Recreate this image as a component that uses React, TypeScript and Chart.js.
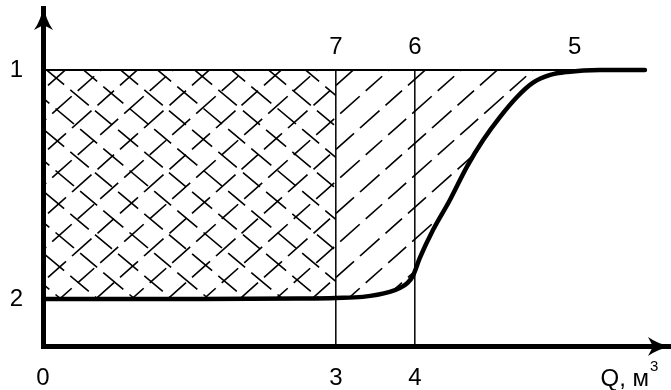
import React, { useEffect, useRef } from "react";
import { Chart, registerables } from "chart.js";

Chart.register(...registerables);

// ---- data (x: Q in relative units 0..100, y: level in relative units) ----
const curveQ = [0, 25.0, 41.0, 46.7, 51.0, 55.3, 56.9, 58.1, 59.0, 60.1, 62.2, 64.9, 67.6, 70.2, 72.9, 75.6, 78.1, 80.9, 83.6, 88.8, 96.0];
const curveLevel = [17.0, 17.0, 17.2, 17.4, 17.8, 19.6, 21.0, 22.8, 25.4, 31.9, 42.0, 52.9, 64.9, 74.6, 83.0, 90.2, 95.3, 98.2, 99.3, 100, 100];
const levelTop = 100;
const levelBottom = 17;
const q3 = 46.7;
const q4 = 59.3;
const q5 = 84.8;
const qTopEnd = 88.8;
const xTickValues = [0, q3, q4];
const xTickLabels = ["0", "3", "4"];
const yTickValues = [levelBottom, levelTop];
const yTickLabels = ["2", "1"];
const topLabelValues = [q3, q4, q5];
const topLabels = ["7", "6", "5"];
const axisTitleMain = "Q, м";
const axisTitleSup = "3";

const FONT = "'Liberation Sans', Arial, sans-serif";

function makeHatch(
  ctx: CanvasRenderingContext2D,
  W: number,
  H: number,
  mirror: boolean,
  base: number[],
  stagger: number
): CanvasPattern | string {
  const c = document.createElement("canvas");
  c.width = 2 * W;
  c.height = 2 * H;
  const g = c.getContext("2d");
  if (!g) return "rgba(0,0,0,0)";
  if (mirror) {
    g.translate(2 * W, 0);
    g.scale(-1, 1);
  }
  const L = Math.hypot(W, H);
  const P = 2 * L;
  const sum = base.reduce((a, b) => a + b, 0);
  g.setLineDash(base.map((d) => (d * P) / sum));
  g.strokeStyle = "#000";
  g.lineWidth = 1.6;
  for (let k = 0; k <= 4; k++) {
    const x0 = (k - 3) * W;
    const y0 = 3 * H;
    const x1 = (k + 1) * W;
    const y1 = -H;
    const ck = k % 2 ? stagger * L : 0;
    let phase = ((x0 / W) * L + ck) % P;
    if (phase < 0) phase += P;
    g.lineDashOffset = phase;
    g.beginPath();
    g.moveTo(x0, y0);
    g.lineTo(x1, y1);
    g.stroke();
  }
  return ctx.createPattern(c, "repeat") || "rgba(0,0,0,0)";
}

const annotate = {
  id: "annotate",
  afterDraw(chart: any) {
    const ctx: CanvasRenderingContext2D = chart.ctx;
    const xs = chart.scales.x;
    const ys = chart.scales.y;
    const ax = xs.getPixelForValue(0) + 0.5;
    const ay = ys.getPixelForValue(0) + 0.5;
    const top = chart.chartArea.top;
    const right = chart.chartArea.right;
    ctx.save();
    ctx.fillStyle = "#000";
    ctx.fillRect(ax - 2.5, ay - 2.5, 5, 5);
    // y arrow
    ctx.beginPath();
    ctx.moveTo(ax, top - 2);
    ctx.quadraticCurveTo(ax + 2.5, top + 12, ax + 9.5, top + 22);
    ctx.lineTo(ax, top + 17);
    ctx.lineTo(ax - 9.5, top + 22);
    ctx.quadraticCurveTo(ax - 2.5, top + 12, ax, top - 2);
    ctx.fill();
    // x arrow
    ctx.beginPath();
    ctx.moveTo(right + 1, ay);
    ctx.quadraticCurveTo(right - 12, ay + 2.5, right - 22, ay + 9.5);
    ctx.lineTo(right - 17, ay);
    ctx.lineTo(right - 22, ay - 9.5);
    ctx.quadraticCurveTo(right - 12, ay - 2.5, right + 1, ay);
    ctx.fill();
    // labels
    ctx.font = `24px ${FONT}`;
    ctx.textAlign = "center";
    ctx.textBaseline = "middle";
    const labelY = ys.getPixelForValue(levelTop) - 23;
    topLabels.forEach((t, i) => {
      ctx.fillText(t, xs.getPixelForValue(topLabelValues[i]), labelY);
    });
    ctx.textAlign = "right";
    ctx.textBaseline = "alphabetic";
    ctx.fillText(axisTitleMain, right - 21, ay + 39.5);
    ctx.font = `15px ${FONT}`;
    ctx.textAlign = "left";
    ctx.fillText(axisTitleSup, right - 20, ay + 24.5);
    ctx.restore();
  },
};

export default function App() {
  const ref = useRef<HTMLCanvasElement | null>(null);

  useEffect(() => {
    document.body.style.margin = "0";
    const canvas = ref.current;
    if (!canvas) return;
    const ctx = canvas.getContext("2d");
    if (!ctx) return;

    const fwd = makeHatch(ctx, 36, 32, false, [26, 8, 22, 8, 24, 8], 0.55);
    const back = makeHatch(ctx, 37, 31, true, [24, 8, 26, 8, 22, 8], 0.4);

    const curveData = curveQ.map((q, i) => ({ x: q, y: curveLevel[i] }));

    const chart = new Chart(ctx, {
      type: "line",
      data: {
        datasets: [
          {
            data: curveData,
            borderColor: "#000",
            borderWidth: 4.5,
            borderCapStyle: "round",
            cubicInterpolationMode: "monotone",
            pointRadius: 0,
            fill: { value: levelTop },
            backgroundColor: fwd as any,
          },
          {
            data: [
              { x: 0, y: levelBottom },
              { x: q3, y: levelBottom },
            ],
            borderWidth: 0,
            borderColor: "rgba(0,0,0,0)",
            pointRadius: 0,
            fill: { value: levelTop },
            backgroundColor: back as any,
          },
          {
            data: [
              { x: 0, y: levelTop },
              { x: qTopEnd, y: levelTop },
            ],
            borderColor: "#000",
            borderWidth: 2,
            pointRadius: 0,
            fill: false,
          },
          {
            data: [
              { x: q3, y: 0 },
              { x: q3, y: levelTop },
            ],
            borderColor: "#000",
            borderWidth: 1.5,
            pointRadius: 0,
            fill: false,
          },
          {
            data: [
              { x: q4, y: 0 },
              { x: q4, y: levelTop },
            ],
            borderColor: "#000",
            borderWidth: 1.5,
            pointRadius: 0,
            fill: false,
          },
        ],
      },
      options: {
        animation: false,
        responsive: false,
        devicePixelRatio: 1,
        layout: { padding: { top: 8, right: 1, left: 0, bottom: 0 } },
        plugins: {
          legend: { display: false },
          tooltip: { enabled: false },
          filler: { drawTime: "beforeDatasetsDraw" },
        } as any,
        scales: {
          x: {
            type: "linear",
            min: 0,
            max: 100,
            grid: { display: false, drawTicks: false },
            border: { display: true, width: 5, color: "#000" },
            ticks: {
              autoSkip: false,
              maxRotation: 0,
              padding: 18,
              color: "#000",
              font: { family: FONT, size: 24 },
              callback: (_v: any, i: number) => xTickLabels[i],
            },
            afterBuildTicks: (s: any) => {
              s.ticks = xTickValues.map((v) => ({ value: v }));
            },
            afterFit: (s: any) => {
              s.height = 44;
              s.paddingLeft = 0;
              s.paddingRight = 0;
              s.paddingTop = 0;
              s.paddingBottom = 0;
            },
          },
          y: {
            type: "linear",
            min: 0,
            max: 122.46,
            grid: { display: false, drawTicks: false },
            border: { display: true, width: 5, color: "#000" },
            ticks: {
              autoSkip: false,
              padding: 20,
              color: "#000",
              font: { family: FONT, size: 24 },
              callback: (_v: any, i: number) => yTickLabels[i],
            },
            afterBuildTicks: (s: any) => {
              s.ticks = yTickValues.map((v) => ({ value: v }));
            },
            afterFit: (s: any) => {
              s.width = 43;
              s.paddingLeft = 0;
              s.paddingRight = 0;
              s.paddingTop = 0;
              s.paddingBottom = 0;
            },
          },
        },
      } as any,
      plugins: [annotate],
    });

    return () => {
      chart.destroy();
    };
  }, []);

  return (
    <div style={{ position: "absolute", left: 0, top: 0, width: 671, height: 390, background: "#fff" }}>
      <canvas ref={ref} width={671} height={390} style={{ display: "block", width: 671, height: 390 }} />
    </div>
  );
}
